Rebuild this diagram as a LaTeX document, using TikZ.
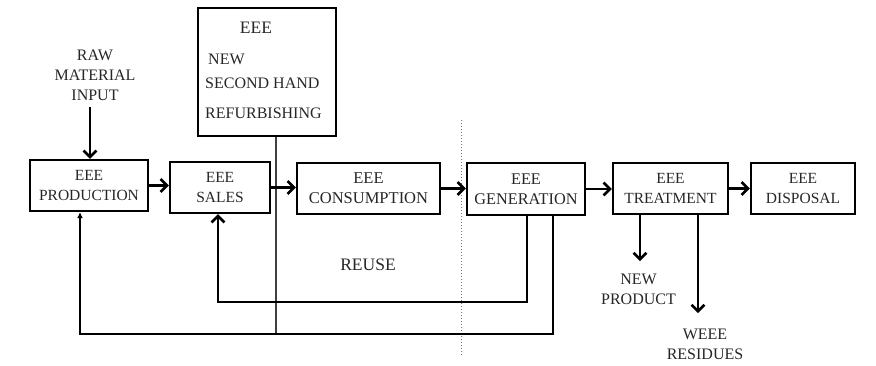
\documentclass[tikz,border=0pt]{standalone}
\usepackage{fontspec}
\setmainfont{Liberation Serif}
\usetikzlibrary{arrows.meta}
\begin{document}
\begin{tikzpicture}[x=1pt,y=-1pt,
  box/.style={draw, line width=2.2pt, inner sep=0pt, align=center, text=black!85,
    font=\fontsize{15.5}{19.5}\selectfont},
  topbox/.style={draw, line width=1.6pt, inner sep=0pt},
  lbl/.style={inner sep=0pt, align=center, text=black!85, font=\fontsize{16}{20}\selectfont},
  flow/.style={line width=2.6pt, -{Straight Barb[length=6.5pt,width=13pt]}},
  thinflow/.style={line width=1.8pt, -{Latex[length=6pt,width=6pt]}},
]
\useasboundingbox (0,0) rectangle (876,365);

% top box
\node[topbox, minimum width=138pt, minimum height=128pt] (top) at (267,72) {};
\node[lbl, font=\fontsize{17.5}{20}\selectfont] (teee) at (256,28) {EEE};
\node[lbl, anchor=west] (tnew) at (208,59) {NEW};
\node[lbl, anchor=west] (tsec) at (205,83) {SECOND HAND};
\node[lbl, anchor=west] (tref) at (205,113) {REFURBISHING};

% raw material
\node[lbl] (raw) at (95,75) {RAW\\MATERIAL\\INPUT};

% dotted separator
\coordinate (dtop) at (461,120);
\coordinate (dbot) at (461,355);
\draw[black!55, line width=1pt, dotted] (dtop) -- (dbot);

% process boxes
\node[box, minimum width=118pt, minimum height=51pt] (prod) at (89,185.5) {EEE\\PRODUCTION};
\node[box, minimum width=100pt, minimum height=51pt] (sales) at (220,187.5) {EEE\\SALES};
\node[box, minimum width=143pt, minimum height=51pt, font=\fontsize{16.5}{20}\selectfont] (cons) at (368.5,188.5) {EEE\\CONSUMPTION};
\node[box, minimum width=118pt, minimum height=52pt, font=\fontsize{16.3}{20}\selectfont] (gen) at (526,189) {EEE\\GENERATION};
\node[box, minimum width=115pt, minimum height=51pt] (treat) at (670.5,188.5) {EEE\\TREATMENT};
\node[box, minimum width=104pt, minimum height=51pt] (disp) at (803,188.5) {EEE\\DISPOSAL};

% labels
\node[lbl, font=\fontsize{17.5}{20}\selectfont] (reuse) at (368,265) {REUSE};
\node[lbl] (newp) at (638.5,289.5) {NEW\\PRODUCT};
\node[lbl] (weee) at (705,344.5) {WEEE\\RESIDUES};

% vertical line from top box
\coordinate (vbot) at (276,333);
\draw[black!75, line width=1.3pt] (top.south -| vbot) -- (vbot);

% main flow
\draw[flow] ([yshift=-6pt]raw.south -| 90,0) -- (prod.north -| 90,0);
\draw[flow] (prod.east) -- (prod.east -| sales.west);
\draw[flow] (sales.east) -- (sales.east -| cons.west);
\draw[flow] (cons.east) -- (cons.east -| gen.west);
\draw[flow] (gen.east) -- (gen.east -| treat.west);
\draw[flow] (treat.east) -- (treat.east -| disp.west);

% feedback loops
\draw[flow] ([xshift=1pt]gen.south) -- ++(0,86) -| ([xshift=-2pt]sales.south);
\draw[thinflow] ([xshift=27pt]gen.south) -- ++(0,118) -| ([xshift=-9pt]prod.south);

% treatment outputs
\draw[flow] ([xshift=-30.5pt]treat.south) -- ++(0,46);
\draw[flow] ([xshift=27.5pt]treat.south) -- ++(0,98);
\end{tikzpicture}
\end{document}
